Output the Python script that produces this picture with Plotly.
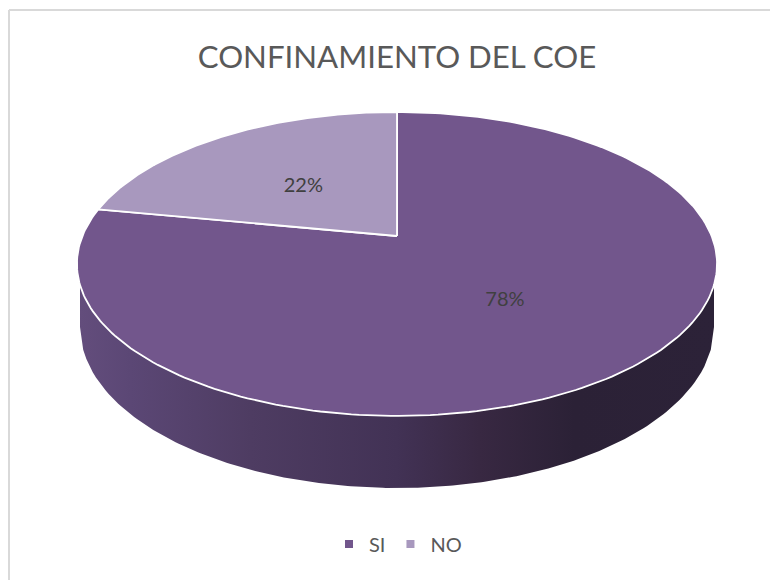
import numpy as np
import plotly.graph_objects as go

title = "CONFINAMIENTO DEL COE"
categories = ["SI", "NO"]
values = [78, 22]
colors = ["#72568C", "#A898BE"]

# projection of the tilted disc onto the page
CX, CY = 397, 236   # apex of the pie on the page
B, A, K = 314.6, 146.8, 0.184


def project(r, turn):
    u = r * np.sin(turn)
    v = r * np.cos(turn)
    d = 1 + K * v
    return CX + B * u / d, CY - A * v / d


total = sum(values)
fracs = np.cumsum([0] + values) / total
fig = go.Figure()

# side wall
xs = np.linspace(80, 714, 200)
top = 264 + 152 * np.sqrt(1 - ((xs - 397) / 320) ** 2)
bottom = 327 + 161 * np.sqrt(np.clip(1 - ((xs - 397) / 317) ** 2, 0, 1))
fig.add_trace(go.Scatter(
    x=np.r_[xs, xs[::-1]], y=np.r_[top, bottom[::-1]],
    mode="lines", line=dict(width=0), fill="toself",
    fillgradient=dict(type="horizontal", colorscale=[
        [0.0, "#634D7C"], [0.08, "#5B4775"], [0.27, "#4E3C62"],
        [0.5, "#423255"], [0.63, "#382842"], [0.78, "#2B2136"], [1.0, "#2C2238"]]),
    hoverinfo="skip", showlegend=False))

# top wedges
for i, name in enumerate(categories):
    t = 2 * np.pi * np.linspace(fracs[i], fracs[i + 1], 240)
    ex, ey = project(1.0, t)
    ax, ay = project(0.0, 0.0)
    fig.add_trace(go.Scatter(
        x=np.r_[ax, ex, ax], y=np.r_[ay, ey, ay],
        mode="lines", line=dict(color="white", width=1.8), fill="toself",
        fillcolor=colors[i], hoverinfo="skip", showlegend=False))

# percentage labels
mid = 2 * np.pi * (fracs[:-1] + fracs[1:]) / 2
lx, ly = project(0.5, mid)
fig.add_trace(go.Scatter(
    x=lx, y=ly + 4, mode="text", text=[f"{v}%" for v in values],
    textfont=dict(family="Lato", size=20, color="#404040"),
    textposition="middle center", hoverinfo="skip", showlegend=False))

# legend entries
for name, c in zip(categories, colors):
    fig.add_trace(go.Scatter(
        x=[None], y=[None], mode="markers", name=name,
        marker=dict(symbol="square", size=8, color=c)))

fig.update_layout(
    width=770, height=580, margin=dict(l=0, r=0, t=0, b=0),
    paper_bgcolor="white", plot_bgcolor="white",
    title=dict(text=title, x=397 / 770, y=1 - 57 / 580, xanchor="center", yanchor="middle",
               font=dict(family="Lato", size=31.2, color="#595959")),
    xaxis=dict(range=[0, 770], visible=False, fixedrange=True),
    yaxis=dict(range=[580, 0], visible=False, fixedrange=True),
    legend=dict(orientation="h", x=398 / 770, y=1 - 544 / 580, xanchor="center", yanchor="middle",
                font=dict(family="Lato", size=20, color="#595959"),
                itemwidth=30, tracegroupgap=0),
    shapes=[
        dict(type="line", xref="x", yref="y", x0=9, x1=770, y0=10, y1=10, line=dict(color="#D9D9D9", width=2)),
        dict(type="line", xref="x", yref="y", x0=9, x1=9, y0=10, y1=580, line=dict(color="#D9D9D9", width=2)),
    ],
)
fig.write_html("out.html", config=dict(displayModeBar=False),
               post_script="document.body.style.margin='0';document.documentElement.style.overflow='hidden';")
